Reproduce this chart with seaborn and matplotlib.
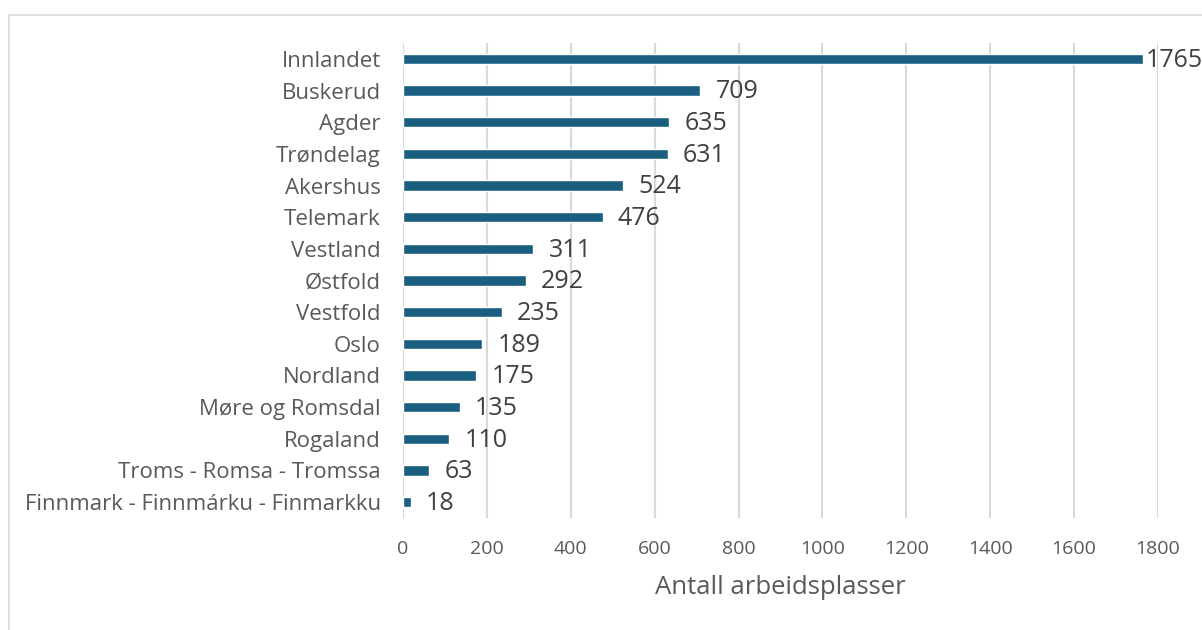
import matplotlib.pyplot as plt
import matplotlib.patches as mpatches
import pandas as pd
import seaborn as sns

REGIONS = [
    "Innlandet", "Buskerud", "Agder", "Trøndelag", "Akershus", "Telemark",
    "Vestland", "Østfold", "Vestfold", "Oslo", "Nordland", "Møre og Romsdal",
    "Rogaland", "Troms - Romsa - Tromssa", "Finnmark - Finnmárku - Finmarkku",
]
JOBS = [1765, 709, 635, 631, 524, 476, 311, 292, 235, 189, 175, 135, 110, 63, 18]
X_TICKS = [0, 200, 400, 600, 800, 1000, 1200, 1400, 1600, 1800]
X_LABEL = "Antall arbeidsplasser"

BAR_COLOR = "#1a5e80"
TEXT_GRAY = "#595959"
VALUE_GRAY = "#404040"


def main() -> None:
    sns.set_style("white")
    plt.rcParams["font.family"] = ["Open Sans", "DejaVu Sans"]

    df = pd.DataFrame({"Region": REGIONS, "Jobs": JOBS})

    fig = plt.figure(figsize=(12.02, 6.3), dpi=100)
    ax = fig.add_axes([0.3353, 0.1778, 0.6281, 0.7539])

    # outer chart frame (partly cut off at right/bottom)
    fig.patches.append(mpatches.Rectangle(
        (9 / 1202, -0.1), 1.2, 1 - 15 / 630 + 0.1,
        transform=fig.transFigure, fill=False,
        edgecolor="#d9d9d9", linewidth=1.2))

    sns.barplot(data=df, x="Jobs", y="Region", color=BAR_COLOR,
                width=0.33, ax=ax, saturation=1)

    ax.set_xlim(0, 1800)
    ax.set_ylim(len(REGIONS) - 0.5, -0.5)
    ax.set_xticks(X_TICKS)
    ax.xaxis.grid(True, color="#d9d9d9", linewidth=1.5)
    ax.set_axisbelow(True)
    for side in ["top", "right", "bottom", "left"]:
        ax.spines[side].set_visible(False)
    ax.tick_params(axis="both", length=0, colors=TEXT_GRAY)
    ax.tick_params(axis="y", pad=16, labelsize=16)
    ax.tick_params(axis="x", pad=16, labelsize=14)
    ax.set_ylabel("")
    ax.set_xlabel(X_LABEL, fontsize=18.5, color=TEXT_GRAY, labelpad=12)

    for i, value in enumerate(JOBS):
        pad = 11 if value < 1700 else 2
        ax.annotate(str(value), xy=(value, i), xytext=(pad, -1),
                    textcoords="offset points", va="center", ha="left",
                    fontsize=18, color=VALUE_GRAY, annotation_clip=False)

    fig.savefig("out.png", dpi=100)
    plt.close(fig)


if __name__ == "__main__":
    main()
